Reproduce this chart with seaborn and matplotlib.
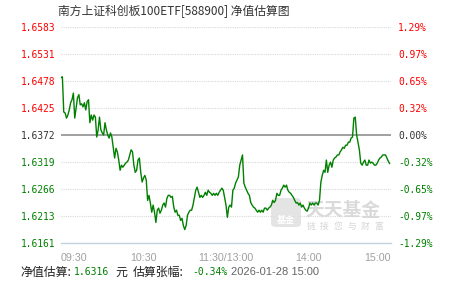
import numpy as np
import pandas as pd
import matplotlib
matplotlib.use("Agg")
import matplotlib.pyplot as plt
import seaborn as sns
from matplotlib.patches import FancyBboxPatch

# ---------------- data ----------------
title = "南方上证科创板100ETF[588900] 净值估算图"
base_nav = 1.6372
band_pct = 1.29

minutes = list(range(240))
nav = [
    1.6484, 1.6486, 1.6417, 1.6415, 1.6405, 1.6411, 1.6421, 1.6435,
    1.6441, 1.6454, 1.6405, 1.6425, 1.6445, 1.6451, 1.6431, 1.6433,
    1.6427, 1.6435, 1.6421, 1.6437, 1.6441, 1.6396, 1.6411, 1.6401,
    1.6411, 1.6407, 1.6368, 1.6382, 1.6407, 1.6382, 1.6376, 1.6372,
    1.6396, 1.6382, 1.6372, 1.6366, 1.6376, 1.6368, 1.6348, 1.6327,
    1.6346, 1.6339, 1.6323, 1.6303, 1.6313, 1.6309, 1.6313, 1.6317,
    1.6319, 1.6323, 1.6333, 1.6343, 1.6339, 1.6313, 1.6299, 1.6303,
    1.6323, 1.6327, 1.6299, 1.6280, 1.6288, 1.6293, 1.6284, 1.6244,
    1.6254, 1.6239, 1.6221, 1.6235, 1.6221, 1.6201, 1.6225, 1.6229,
    1.6219, 1.6225, 1.6235, 1.6239, 1.6231, 1.6248, 1.6254, 1.6254,
    1.6250, 1.6252, 1.6231, 1.6221, 1.6225, 1.6215, 1.6215, 1.6205,
    1.6209, 1.6195, 1.6187, 1.6195, 1.6215, 1.6221, 1.6225, 1.6225,
    1.6235, 1.6250, 1.6264, 1.6270, 1.6260, 1.6250, 1.6254, 1.6250,
    1.6254, 1.6260, 1.6254, 1.6264, 1.6260, 1.6258, 1.6254, 1.6258,
    1.6254, 1.6258, 1.6254, 1.6260, 1.6264, 1.6268, 1.6264, 1.6250,
    1.6235, 1.6211, 1.6231, 1.6235, 1.6231, 1.6264, 1.6268, 1.6278,
    1.6284, 1.6290, 1.6313, 1.6323, 1.6333, 1.6278, 1.6270, 1.6264,
    1.6258, 1.6254, 1.6240, 1.6235, 1.6231, 1.6229, 1.6225, 1.6221,
    1.6225, 1.6221, 1.6225, 1.6221, 1.6229, 1.6229, 1.6225, 1.6229,
    1.6231, 1.6235, 1.6244, 1.6240, 1.6244, 1.6258, 1.6254, 1.6254,
    1.6264, 1.6268, 1.6274, 1.6270, 1.6274, 1.6264, 1.6260, 1.6258,
    1.6254, 1.6250, 1.6244, 1.6239, 1.6240, 1.6235, 1.6239, 1.6231,
    1.6235, 1.6229, 1.6225, 1.6223, 1.6229, 1.6239, 1.6235, 1.6239,
    1.6235, 1.6239, 1.6239, 1.6235, 1.6244, 1.6280, 1.6293, 1.6303,
    1.6299, 1.6323, 1.6299, 1.6313, 1.6319, 1.6309, 1.6323, 1.6327,
    1.6329, 1.6333, 1.6333, 1.6339, 1.6343, 1.6348, 1.6346, 1.6352,
    1.6352, 1.6358, 1.6358, 1.6366, 1.6368, 1.6405, 1.6407, 1.6372,
    1.6358, 1.6343, 1.6317, 1.6313, 1.6319, 1.6323, 1.6313, 1.6313,
    1.6323, 1.6317, 1.6319, 1.6317, 1.6313, 1.6313, 1.6317, 1.6323,
    1.6327, 1.6329, 1.6333, 1.6333, 1.6333, 1.6327, 1.6321, 1.6316,
]

left_labels = ["1.6583", "1.6531", "1.6478", "1.6425", "1.6372",
               "1.6319", "1.6266", "1.6213", "1.6161"]
right_labels = ["1.29%", "0.97%", "0.65%", "0.32%", "0.00%",
                "-0.32%", "-0.65%", "-0.97%", "-1.29%"]
label_colors = ["#ff0000"] * 4 + ["#333333"] + ["#008000"] * 4

time_major = [0, 60, 120, 180, 240]
time_labels = ["09:30", "10:30", "11:30/13:00", "14:00", "15:00"]
time_minor = [30, 90, 150, 210]

est_nav = "1.6316"
est_chg = "-0.34%"
stamp = "2026-01-28 15:00"

# ---------------- style ----------------
sns.set_style("white")
plt.rcParams["font.family"] = ["Noto Sans CJK SC", "DejaVu Sans"]

W, H = 451, 281
fig = plt.figure(figsize=(W / 100, H / 100), dpi=100)
fig.patch.set_facecolor("white")


def px(x, y):
    return x / W, 1 - y / H


ax = fig.add_axes([61 / W, 1 - 243 / H, 330 / W, 216 / H])
ax.set_facecolor("none")

ylo = base_nav * (1 - band_pct / 100)
yhi = base_nav * (1 + band_pct / 100)
levels = np.linspace(yhi, ylo, 9)

df = pd.DataFrame({"minute": minutes, "nav": nav})

# grid
for i, lv in enumerate(levels[:-1]):
    if i == 4:
        ax.axhline(lv, color="#999999", lw=1.3, zorder=1)
    else:
        ax.axhline(lv, color="#d9d9d9", lw=0.8, ls=(0, (1, 1)), zorder=1)

# watermark (behind the line)
wm = "#d6d6d6"
logo = FancyBboxPatch(px(271, 227), 30 / W, 29 / H, boxstyle="round,pad=0,rounding_size=0.012",
                      transform=fig.transFigure, facecolor="#dedede", edgecolor="none",
                      alpha=0.8, zorder=1.2)
ax.add_artist(logo)
ax.text(*px(286, 221), "基金", transform=fig.transFigure, ha="center", va="center",
        fontsize=6.5, color="white", fontweight="bold", zorder=1.3)
ax.text(*px(343, 211), "天天基金", transform=fig.transFigure, ha="center", va="center",
        fontsize=13.5, color=wm, fontweight="bold", zorder=1.3, alpha=0.9)
for k, ch in enumerate("链接您与财富"):
    ax.text(*px(311 + k * 13.6, 226), ch, transform=fig.transFigure, ha="center",
            va="center", fontsize=6.3, color=wm, zorder=1.3)

sns.lineplot(data=df, x="minute", y="nav", ax=ax, color="#008000", linewidth=1.0,
             zorder=3)

ax.set_xlim(0, 240)
ax.set_ylim(ylo, yhi)
ax.set_xlabel("")
ax.set_ylabel("")

for s in ["top", "left", "right"]:
    ax.spines[s].set_visible(False)
ax.spines["bottom"].set_color("#c5d3e0")
ax.spines["bottom"].set_linewidth(1.0)

# x ticks
ax.set_xticks(time_major)
ax.set_xticklabels(time_labels)
ax.set_xticks(time_minor, minor=True)
ax.tick_params(axis="x", which="both", length=4, width=1, color="#c5d3e0",
               direction="out", pad=3, labelsize=7.7, labelcolor="#a0a0a0")
for t in ax.get_xticklabels():
    t.set_family(["Liberation Sans", "DejaVu Sans"])
xl = ax.get_xticklabels()
xl[0].set_ha("left")
xl[-1].set_ha("right")

# left y labels
ax.set_yticks(levels)
ax.set_yticklabels(left_labels)
ax.tick_params(axis="y", length=0, pad=4, labelsize=6.9)
for t, c in zip(ax.get_yticklabels(), label_colors):
    t.set_color(c)
    t.set_family("DejaVu Sans Mono")

# right y labels
ax2 = ax.twinx()
ax2.set_ylim(ylo, yhi)
ax2.set_yticks(levels)
ax2.set_yticklabels(right_labels)
ax2.tick_params(axis="y", length=0, pad=5, labelsize=6.9)
for t, c in zip(ax2.get_yticklabels(), label_colors):
    t.set_color(c)
    t.set_family("DejaVu Sans Mono")
for s in ax2.spines.values():
    s.set_visible(False)
ax2.grid(False)
ax.grid(False)

# title
fig.text(*px(58, 11), title, ha="left", va="center", fontsize=8.5, color="#333333")

# bottom info line
ty = 272
fig.text(*px(20, ty), "净值估算:", ha="left", va="center", fontsize=8.6, color="#222222")
fig.text(*px(74, ty), est_nav, ha="left", va="center", fontsize=7.0, color="#008000",
         family="DejaVu Sans Mono")
fig.text(*px(115, ty), "元", ha="left", va="center", fontsize=8.6, color="#222222")
fig.text(*px(133, ty), "估算张幅:", ha="left", va="center", fontsize=8.6, color="#222222")
fig.text(*px(192, ty), est_chg, ha="left", va="center", fontsize=7.0, color="#008000",
         family="DejaVu Sans Mono")
fig.text(*px(231, ty), stamp, ha="left", va="center", fontsize=8.0, color="#666666",
         family=["Liberation Sans", "DejaVu Sans"])

fig.savefig("out.png", dpi=100, facecolor="white")
